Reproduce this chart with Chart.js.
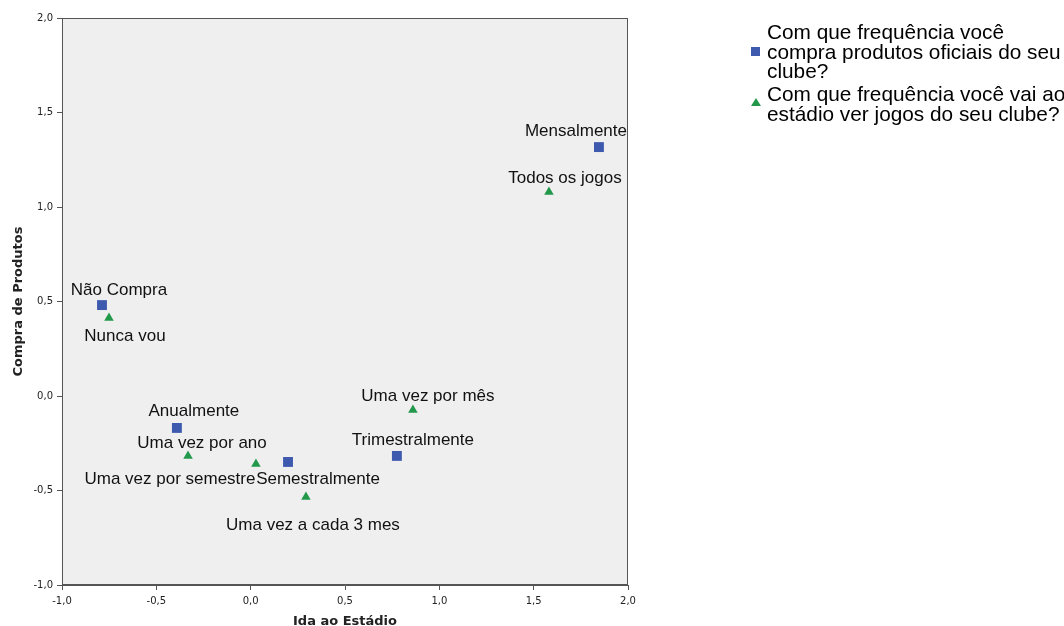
<!DOCTYPE html>
<html>
<head>
<meta charset="utf-8">
<script src="https://cdn.jsdelivr.net/npm/chart.js@4"></script>
<style>
  body { margin: 0; background: #fff; }
  #wrap { position: relative; width: 1064px; height: 626px; }
  #legend { position: absolute; left: 750px; top: 22px; width: 320px; white-space: nowrap; font-family: "Liberation Sans", Arial, sans-serif; font-size: 20.8px; line-height: 19.7px; color: #000; }
  .item { display: flex; align-items: center; margin-bottom: 3px; }
  .mark { width: 17px; flex: none; display: flex; justify-content: flex-start; }
  .sq { width: 9px; height: 9px; background: #3d5aae; margin-left: 1px; }
  .tri { width: 0; height: 0; border-left: 5px solid transparent; border-right: 5px solid transparent; border-bottom: 8px solid #22994a; margin-left: 1px; margin-top: -4px; }
</style>
</head>
<body>
<div id="wrap">
  <canvas id="mapChart" width="1064" height="626"></canvas>
  <div id="legend"></div>
</div>
<script>
// Categorias e coordenadas (dimensão 1 = Ida ao Estádio, dimensão 2 = Compra de Produtos)
const seriesNames = [
  'Com que frequência você compra produtos oficiais do seu clube?',
  'Com que frequência você vai ao estádio ver jogos do seu clube?'
];
const legendLines = [
  ['Com que frequência você', 'compra produtos oficiais do seu', 'clube?'],
  ['Com que frequência você vai ao', 'estádio ver jogos do seu clube?']
];

const compraLabels = ['Mensalmente', 'Não Compra', 'Anualmente', 'Semestralmente', 'Trimestralmente'];
const compraX = [1.846, -0.788, -0.391, 0.198, 0.775];
const compraY = [1.317, 0.481, -0.169, -0.349, -0.317];

const estadioLabels = ['Todos os jogos', 'Nunca vou', 'Uma vez por mês', 'Uma vez por ano', 'Uma vez por semestre', 'Uma vez a cada 3 mes'];
const estadioX = [1.581, -0.751, 0.860, -0.332, 0.028, 0.293];
const estadioY = [1.079, 0.413, -0.074, -0.317, -0.360, -0.534];

const xTicks = [-1.0, -0.5, 0.0, 0.5, 1.0, 1.5, 2.0];
const yTicks = [-1.0, -0.5, 0.0, 0.5, 1.0, 1.5, 2.0];

// deslocamento dos rótulos em relação ao ponto (px)
const compraOffsets = [[-23, -17], [17, -16], [17, -18], [30, 16], [16, -17]];
const estadioOffsets = [[16, -15], [16, 17], [15, -15], [14, -14], [-86, 14], [7, 27]];

const fmt = v => v.toFixed(1).replace('.', ',');
const toPoints = (xs, ys) => xs.map((x, i) => ({ x: x, y: ys[i] }));

const frame = {
  id: 'frame',
  beforeDraw(chart) {
    const { ctx, chartArea: a } = chart;
    ctx.save();
    ctx.fillStyle = '#efefef';
    ctx.fillRect(a.left, a.top, a.right - a.left, a.bottom - a.top);
    ctx.restore();
  },
  afterDraw(chart) {
    const { ctx, chartArea: a } = chart;
    ctx.save();
    ctx.strokeStyle = '#555';
    ctx.lineWidth = 1;
    ctx.strokeRect(a.left + 0.5, a.top + 0.5, a.right - a.left - 1, a.bottom - a.top - 1);
    ctx.restore();
  }
};

const pointLabels = {
  id: 'pointLabels',
  afterDatasetsDraw(chart) {
    const ctx = chart.ctx;
    const sets = [[compraLabels, compraOffsets], [estadioLabels, estadioOffsets]];
    ctx.save();
    ctx.font = '17px "Liberation Sans", Arial, sans-serif';
    ctx.fillStyle = '#111';
    ctx.textAlign = 'center';
    ctx.textBaseline = 'middle';
    sets.forEach(([labels, offs], d) => {
      chart.getDatasetMeta(d).data.forEach((pt, i) => {
        ctx.fillText(labels[i], pt.x + offs[i][0], pt.y + offs[i][1] + 1);
      });
    });
    ctx.restore();
  }
};

const axisFont = { family: 'DejaVu Sans', size: 10 };
const titleFont = { family: 'DejaVu Sans', size: 13, weight: 'bold' };

new Chart(document.getElementById('mapChart'), {
  type: 'scatter',
  data: {
    datasets: [{
      label: seriesNames[0],
      data: toPoints(compraX, compraY),
      pointStyle: 'rect',
      pointRadius: 7,
      pointHoverRadius: 7,
      backgroundColor: '#3d5aae',
      borderColor: '#3d5aae',
      borderWidth: 0
    }, {
      label: seriesNames[1],
      data: toPoints(estadioX, estadioY),
      pointStyle: 'triangle',
      pointRadius: 5.5,
      pointHoverRadius: 5.5,
      backgroundColor: '#22994a',
      borderColor: '#22994a',
      borderWidth: 0
    }]
  },
  options: {
    responsive: false,
    animation: false,
    layout: { padding: { top: 18, right: 436, left: 0, bottom: 0 } },
    scales: {
      x: {
        type: 'linear', min: -1, max: 2,
        afterBuildTicks: s => { s.ticks = xTicks.map(v => ({ value: v })); },
        afterFit: s => { s.height = 41; },
        ticks: { callback: fmt, color: '#222', font: axisFont, padding: 5, maxRotation: 0 },
        grid: { drawOnChartArea: false, drawTicks: true, tickLength: 5, color: '#555' },
        border: { display: true, color: '#555' },
        title: { display: true, text: 'Ida ao Estádio', color: '#222', font: titleFont, padding: { top: 0, bottom: -3 } }
      },
      y: {
        type: 'linear', min: -1, max: 2,
        afterBuildTicks: s => { s.ticks = yTicks.map(v => ({ value: v })); },
        afterFit: s => { s.width = 62; },
        ticks: { callback: fmt, color: '#222', font: axisFont, padding: 4 },
        grid: { drawOnChartArea: false, drawTicks: true, tickLength: 5, color: '#555' },
        border: { display: true, color: '#555' },
        title: { display: true, text: 'Compra de Produtos', color: '#222', font: titleFont, padding: { top: 11, bottom: 0 } }
      }
    },
    plugins: {
      legend: { display: false },
      tooltip: { enabled: false }
    }
  },
  plugins: [frame, pointLabels]
});

// legenda em HTML (texto em várias linhas, como no original)
const legend = document.getElementById('legend');
legendLines.forEach((lines, i) => {
  const item = document.createElement('div');
  item.className = 'item';
  item.innerHTML = '<div class="mark"><div class="' + (i === 0 ? 'sq' : 'tri') + '"></div></div>' +
    '<div>' + lines.join('<br>') + '</div>';
  legend.appendChild(item);
});
</script>
</body>
</html>
